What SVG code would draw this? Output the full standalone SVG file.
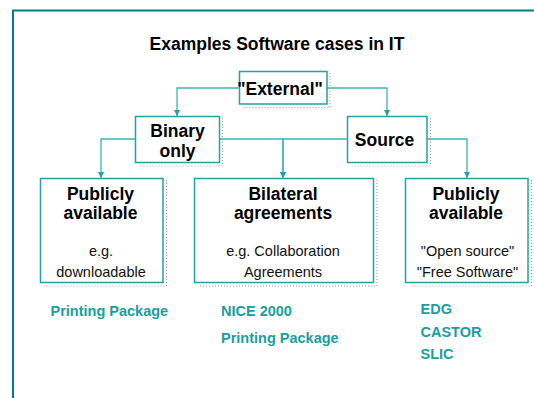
<svg xmlns="http://www.w3.org/2000/svg" width="534" height="398" viewBox="0 0 534 398">
  <style>
    .frame { fill: none; stroke: #008080; stroke-width: 2; }
    .box { fill: #ffffff; stroke: #1fa3a3; stroke-width: 1.5; }
    .shadow { fill: none; stroke: #9a9a9a; stroke-width: 1; stroke-dasharray: 1 2; }
    .link { fill: none; stroke: #3db5b5; stroke-width: 1.3; }
    .head { font-family: "Liberation Sans", Arial, sans-serif; font-weight: bold; font-size: 17.5px; fill: #000000; text-anchor: middle; }
    .sub { font-family: "Liberation Sans", Arial, sans-serif; font-size: 14.5px; fill: #111111; text-anchor: middle; }
    .ex { font-family: "Liberation Sans", Arial, sans-serif; font-weight: bold; font-size: 14.5px; fill: #1a9e9e; }
  </style>
  <defs>
    <marker id="arrow" viewBox="0 0 10 10" refX="10" refY="5" markerWidth="6" markerHeight="6" markerUnits="userSpaceOnUse" orient="auto">
      <path d="M0,0 L10,5 L0,10 z" fill="#1fa3a3"/>
    </marker>
  </defs>

  <!-- page frame -->
  <path class="frame" d="M13,398 L13,10.5 L534,10.5"/>

  <!-- title -->
  <text class="head" x="277" y="50">Examples Software cases in IT</text>

  <!-- connectors -->
  <g id="connectors">
    <polyline class="link" points="239,88 177,88 177,116" marker-end="url(#arrow)"/>
    <polyline class="link" points="327,88 387,88 387,116" marker-end="url(#arrow)"/>
    <polyline class="link" points="135,139 101,139 101,178" marker-end="url(#arrow)"/>
    <polyline class="link" points="219,139 283,139 283,178" marker-end="url(#arrow)"/>
    <polyline class="link" points="347,139 283,139 283,178" marker-end="url(#arrow)"/>
    <polyline class="link" points="427,139 467,139 467,178" marker-end="url(#arrow)"/>
  </g>

  <g id="external">
    <polyline class="shadow" points="330,73 330,107.5 243,107.5"/>
    <rect class="box" x="239.5" y="71.5" width="87.5" height="32.5"/>
    <text class="head" x="280" y="94.5">"External"</text>
  </g>

  <g id="binary">
    <polyline class="shadow" points="222.5,118 222.5,166 140,166"/>
    <rect class="box" x="135.5" y="116.5" width="84" height="46"/>
    <text class="head" x="177.5" y="136.5">Binary</text>
    <text class="head" x="177.5" y="156.5">only</text>
  </g>

  <g id="source">
    <polyline class="shadow" points="430.5,118 430.5,166 352,166"/>
    <rect class="box" x="347.5" y="116.5" width="79.5" height="46"/>
    <text class="head" x="384.5" y="145.5">Source</text>
  </g>

  <g id="public-binary">
    <polyline class="shadow" points="166.5,180 166.5,286 44,286"/>
    <rect class="box" x="40.5" y="178.5" width="122.5" height="104"/>
    <text class="head" x="100.5" y="199.5">Publicly</text>
    <text class="head" x="100.5" y="219">available</text>
    <text class="sub" x="101" y="256">e.g.</text>
    <text class="sub" x="101" y="276.5">downloadable</text>
  </g>

  <g id="bilateral">
    <polyline class="shadow" points="377,180 377,286 198,286"/>
    <rect class="box" x="194.5" y="178.5" width="179" height="104"/>
    <text class="head" x="283" y="199.5">Bilateral</text>
    <text class="head" x="283" y="219">agreements</text>
    <text class="sub" x="283" y="256">e.g. Collaboration</text>
    <text class="sub" x="283" y="276.5">Agreements</text>
  </g>

  <g id="public-source">
    <polyline class="shadow" points="531.5,180 531.5,286 410,286"/>
    <rect class="box" x="405.5" y="178.5" width="122.5" height="104"/>
    <text class="head" x="466" y="199.5">Publicly</text>
    <text class="head" x="466" y="219">available</text>
    <text class="sub" x="467.5" y="256">"Open source"</text>
    <text class="sub" x="467.5" y="276.5">"Free Software"</text>
  </g>

  <!-- example products -->
  <g id="examples">
    <text class="ex" x="50.5" y="316">Printing Package</text>
    <text class="ex" x="221" y="316">NICE 2000</text>
    <text class="ex" x="221" y="342.5">Printing Package</text>
    <text class="ex" x="420.5" y="313.5">EDG</text>
    <text class="ex" x="420.5" y="336.5">CASTOR</text>
    <text class="ex" x="420.5" y="359">SLIC</text>
  </g>
</svg>
